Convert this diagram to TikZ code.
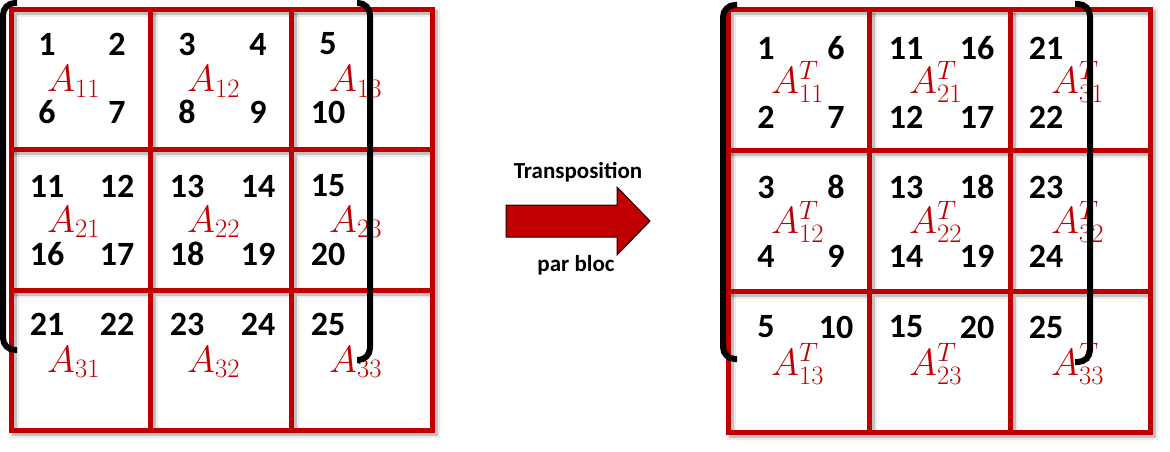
\RequirePackage{fix-cm}
\documentclass[tikz,border=0pt]{standalone}
\usepackage{fontspec}
\setmainfont{Carlito}
\definecolor{matred}{RGB}{192,0,0}
\begin{document}
\begin{tikzpicture}[x=1pt,y=-1pt,
  gridline/.style={draw=matred, line width=5pt},
  gshadowa/.style={draw=black, line width=9pt, opacity=0.07},
  gshadowb/.style={draw=black, line width=5pt, opacity=0.18},
  num/.style={font=\fontsize{34}{40}\selectfont\bfseries, inner sep=0pt, anchor=center},
  blk/.style={font=\fontsize{38}{44}\selectfont, text=matred, inner sep=0pt, anchor=base west},
  bracket/.style={draw=black, line width=6pt, rounded corners=12pt},
  lbl/.style={font=\fontsize{23}{28}\selectfont\bfseries, inner sep=0pt, anchor=base},
  arrowbody/.style={fill=matred, draw=black!85!matred, line width=1pt, line join=miter}]
\useasboundingbox (0,0) rectangle (1170,452);

% ---- shadows of the grids
\foreach \s in {gshadowa,gshadowb}{
\begin{scope}[shift={(3,3)}]
  \draw[\s] (11,10) rectangle (432,430);
  \draw[\s] (150,10) -- (150,430) (291,10) -- (291,430) (11,149) -- (432,149) (11,290) -- (432,290);
  \draw[\s] (728,10) rectangle (1150,432);
  \draw[\s] (869,10) -- (869,432) (1010,10) -- (1010,432) (728,150) -- (1150,150) (728,291) -- (1150,291);
\end{scope}}

% ---- grids
\draw[gridline] (11,10) rectangle (432,430);
\draw[gridline] (150,10) -- (150,430) (291,10) -- (291,430) (11,149) -- (432,149) (11,290) -- (432,290);
\draw[gridline] (728,10) rectangle (1150,432);
\draw[gridline] (869,10) -- (869,432) (1010,10) -- (1010,432) (728,150) -- (1150,150) (728,291) -- (1150,291);

% ---- left matrix numbers
\node[num] (l1) at (47,44) {1};   \node[num] (l2) at (117,44) {2};
\node[num] (l6) at (47,112) {6};  \node[num] (l7) at (117,112) {7};
\node[num] (l3) at (187,44) {3};  \node[num] (l4) at (258,44) {4};
\node[num] (l8) at (187,112) {8}; \node[num] (l9) at (258,112) {9};
\node[num] (l5) at (328,44) {5};  \node[num] (l10) at (328,112) {10};
\node[num] (l11) at (47,186) {11};  \node[num] (l12) at (117,186) {12};
\node[num] (l16) at (47,254) {16};  \node[num] (l17) at (117,254) {17};
\node[num] (l13) at (187,186) {13}; \node[num] (l14) at (258,186) {14};
\node[num] (l18) at (187,254) {18}; \node[num] (l19) at (258,254) {19};
\node[num] (l15) at (328,186) {15}; \node[num] (l20) at (328,254) {20};
\node[num] (l21) at (47,324) {21};  \node[num] (l22) at (117,324) {22};
\node[num] (l23) at (187,324) {23}; \node[num] (l24) at (258,324) {24};
\node[num] (l25) at (328,324) {25};

% ---- right matrix numbers
\node[num] (r1) at (766,48) {1};   \node[num] (r6) at (836,48) {6};
\node[num] (r2) at (766,117) {2};  \node[num] (r7) at (836,117) {7};
\node[num] (r11) at (906,48) {11}; \node[num] (r16) at (977,48) {16};
\node[num] (r12) at (906,117) {12};\node[num] (r17) at (977,117) {17};
\node[num] (r21) at (1046,48) {21};\node[num] (r22) at (1046,117) {22};
\node[num] (r3) at (766,187) {3};  \node[num] (r8) at (836,187) {8};
\node[num] (r4) at (766,256) {4};  \node[num] (r9) at (836,256) {9};
\node[num] (r13) at (906,187) {13};\node[num] (r18) at (977,187) {18};
\node[num] (r14) at (906,256) {14};\node[num] (r19) at (977,256) {19};
\node[num] (r23) at (1046,187) {23};\node[num] (r24) at (1046,256) {24};
\node[num] (r5) at (766,327) {5};  \node[num] (r10) at (836,327) {10};
\node[num] (r15) at (906,327) {15};\node[num] (r20) at (977,327) {20};
\node[num] (r25) at (1046,327) {25};

% ---- block labels
\foreach \i/\y in {1/92,2/232,3/372}{
  \foreach \j/\x in {1/47,2/187,3/329}{
    \node[blk] (LA\i\j) at (\x,\y) {$A_{\i\j}$};
  }
}
\foreach \i/\y in {1/93,2/233,3/375}{
  \foreach \j/\x in {1/771,2/909,3/1051}{
    \node[blk] (RA\i\j) at (\x,\y) {$A^T_{\j\i}$};
  }
}

% ---- brackets
\draw[bracket] (17,3) -- (3,3) -- (3,350) -- (17,350);
\draw[bracket] (357,3) -- (370,3) -- (370,360) -- (357,360);
\draw[bracket] (737,5) -- (723,5) -- (723,359) -- (737,359);
\draw[bracket] (1075,4) -- (1090,4) -- (1090,362) -- (1075,362);

% ---- arrow
\draw[arrowbody] (506,205) -- (617,205) -- (617,187) -- (650,221) -- (617,255) -- (617,237) -- (506,237) -- cycle;
\node[lbl] (trans) at (578,178) {Transposition};
\node[lbl] (parbloc) at (576,271) {par bloc};
\end{tikzpicture}
\end{document}
